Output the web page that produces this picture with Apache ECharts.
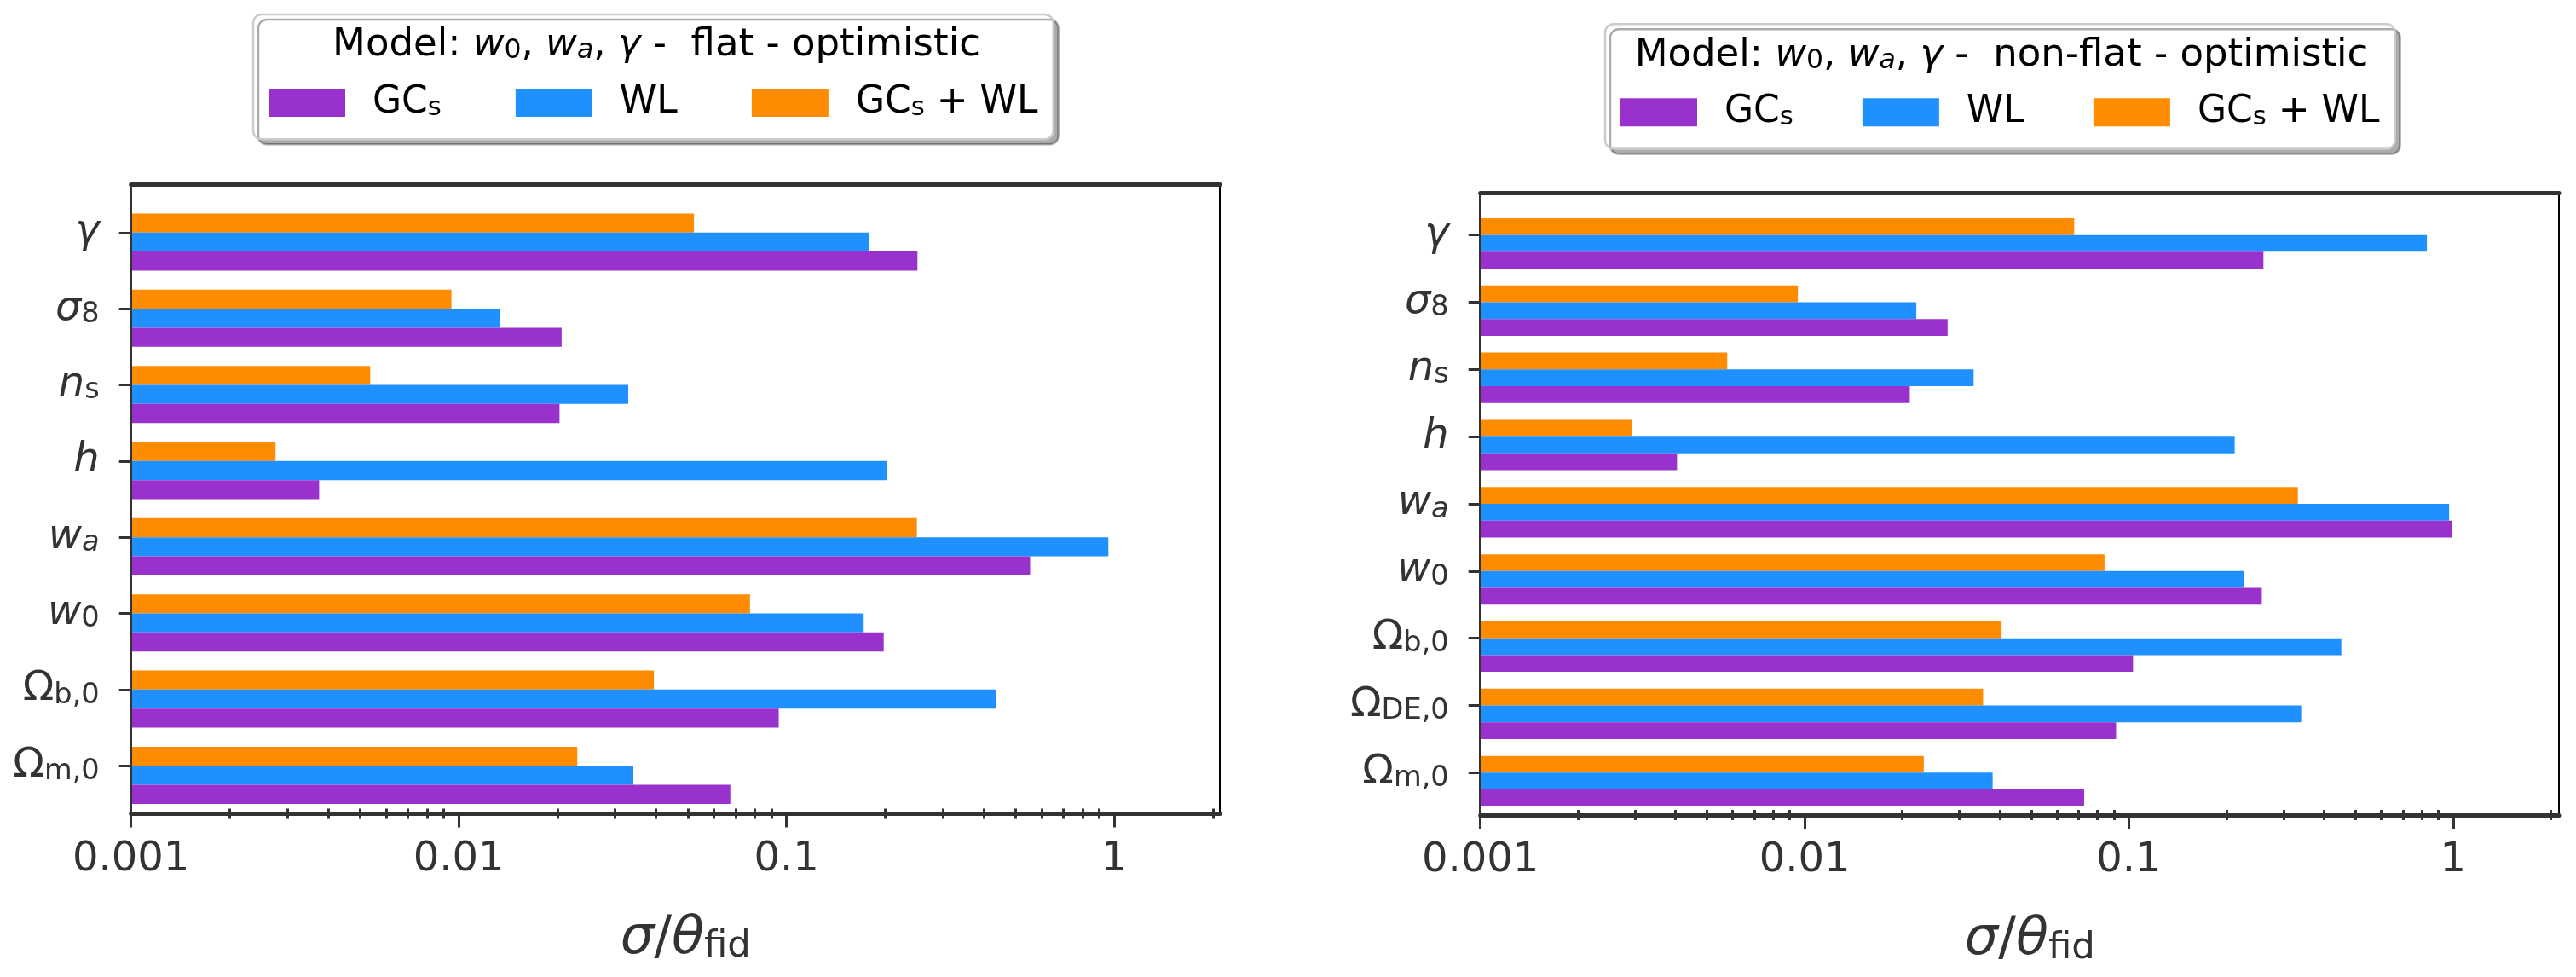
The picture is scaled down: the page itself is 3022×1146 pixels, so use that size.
<!DOCTYPE html>
<html><head><meta charset="utf-8">
<script src="https://cdn.jsdelivr.net/npm/echarts@6/dist/echarts.min.js"></script>
<style>html,body{margin:0;padding:0;background:#fff}#c{width:3022px;height:1146px}</style>
</head><body><div id="c"></div>
<script>
// ---------------- data ----------------
const seriesNames = ['GCs', 'WL', 'GCs + WL'];
const seriesColors = ['#9932CC', '#1E90FF', '#FF8C00'];

// categories listed top to bottom as in the picture
const leftCategories = ['γ', 'σ8', 'ns', 'h', 'wa', 'w0', 'Ωb,0', 'Ωm,0'];
const leftGCs  = [0.251, 0.0206, 0.0203, 0.00375, 0.554, 0.198, 0.0947, 0.0674];
const leftWL   = [0.179, 0.01337, 0.0329, 0.203, 0.960, 0.172, 0.435, 0.0341];
const leftComb = [0.0522, 0.0095, 0.00537, 0.00276, 0.250, 0.0774, 0.0394, 0.0230];

const rightCategories = ['γ', 'σ8', 'ns', 'h', 'wa', 'w0', 'Ωb,0', 'ΩDE,0', 'Ωm,0'];
const rightGCs  = [0.260, 0.0276, 0.0211, 0.00404, 0.989, 0.257, 0.103, 0.0913, 0.0728];
const rightWL   = [0.830, 0.0221, 0.0332, 0.212, 0.972, 0.227, 0.452, 0.340, 0.038];
const rightComb = [0.0678, 0.00953, 0.00577, 0.00294, 0.332, 0.0841, 0.0405, 0.0355, 0.0233];

const xMajorTicks = [0.001, 0.01, 0.1, 1];
const xTickLabels = ['0.001', '0.01', '0.1', '1'];
const xMinorTicks = [0.002, 0.003, 0.004, 0.005, 0.006, 0.007, 0.008, 0.009,
                     0.02, 0.03, 0.04, 0.05, 0.06, 0.07, 0.08, 0.09,
                     0.2, 0.3, 0.4, 0.5, 0.6, 0.7, 0.8, 0.9, 2];
const leftXMax = 2.1, rightXMax = 2.12, xMin = 0.001;

const leftTitle = 'Model: w0, wa, γ -  flat - optimistic';
const rightTitle = 'Model: w0, wa, γ -  non-flat - optimistic';
const xAxisTitle = 'σ/θfid';

// ---------------- text markup (math-like rendering) ----------------
const FONT = 'DejaVu Sans';
const labelMarkup = {
  'γ': '{i|γ}', 'σ8': '{i|σ}{s|8}', 'ns': '{i|n}{s|s}', 'h': '{i|h}',
  'wa': '{i|w}{si|a}', 'w0': '{i|w}{s|0}', 'Ωb,0': '{r|Ω}{s|b,0}',
  'ΩDE,0': '{r|Ω}{s|DE,0}', 'Ωm,0': '{r|Ω}{s|m,0}'
};
const legendMarkup = {'GCs': '{r|GC}{s|s}', 'WL': '{r|WL}', 'GCs + WL': '{r|GC}{s|s}{r| + WL}'};
const titleMarkup = {
  [leftTitle]: '{r|Model: }{i|w}{s|0}{r|, }{i|w}{si|a}{r|, }{i|γ}{r| -  flat - optimistic}',
  [rightTitle]: '{r|Model: }{i|w}{s|0}{r|, }{i|w}{si|a}{r|, }{i|γ}{r| -  non-flat - optimistic}'
};
const xTitleMarkup = '{i|σ}{r|/}{i|θ}{s|fid}';

function richSet(F, d, color) {
  const sf = +(F * 0.7).toFixed(1);
  const h = F - 2 * (d + 0.104 * F);
  const base = {fontFamily: FONT, color: color, fill: color};
  return {
    i: Object.assign({}, base, {fontSize: F, fontStyle: 'italic', lineHeight: F}),
    r: Object.assign({}, base, {fontSize: F, lineHeight: F}),
    s: Object.assign({}, base, {fontSize: sf, lineHeight: h, verticalAlign: 'bottom'}),
    si: Object.assign({}, base, {fontSize: sf, fontStyle: 'italic', lineHeight: h, verticalAlign: 'bottom'})
  };
}

function tickLabel(v) {
  let best = 0, bd = Infinity;
  xMajorTicks.forEach((t, k) => { const dd = Math.abs(Math.log10(v) - Math.log10(t)); if (dd < bd) { bd = dd; best = k; } });
  return xTickLabels[best];
}

// ---------------- layout ----------------
const M = 0.63; // category margin (in category units) inside the frame
const panels = [
  {L: 153.7, T: 216.5, W: 1277.3, H: 738, cats: leftCategories, xMax: leftXMax,
   vals: [leftComb, leftWL, leftGCs]},
  {L: 1736.7, T: 226, W: 1265.3, H: 730, cats: rightCategories, xMax: rightXMax,
   vals: [rightComb, rightWL, rightGCs]}
];

const grid = [], xAxis = [], yAxis = [], series = [];
const DARK = '#333333';

panels.forEach(p => {
  const n = p.cats.length;
  const b = p.H / (n - 1 + 2 * M);
  const idx = p.cats.map((c, k) => k);
  // frame grid
  const gF = grid.length;
  grid.push({left: p.L, top: p.T, width: p.W, height: p.H, outerBoundsMode: 'none', containLabel: false});
  const logBase = {type: 'log', logBase: 10, min: xMin, max: p.xMax, gridIndex: gF, splitLine: {show: false}, z: 10};
  xAxis.push(Object.assign({}, logBase, {
    position: 'bottom',
    axisLine: {show: true, onZero: false, lineStyle: {color: DARK, width: 5}},
    axisTick: {show: true, customValues: xMajorTicks, length: 16, lineStyle: {color: DARK, width: 3}},
    minorTick: {show: false},
    axisLabel: {show: true, customValues: xMajorTicks, formatter: tickLabel, fontFamily: FONT, fontSize: 48, color: DARK, margin: 30},
    name: xTitleMarkup, nameLocation: 'middle', nameGap: 116, nameMoveOverlap: false,
    nameTextStyle: {fontFamily: FONT, fontSize: 62, color: DARK, padding: [0, 0, 0, 24], rich: richSet(62, 9.3, DARK)}
  }));
  xAxis.push(Object.assign({}, logBase, {
    position: 'bottom', axisLine: {show: false, onZero: false}, axisLabel: {show: false},
    axisTick: {show: true, inside: false, customValues: xMinorTicks, length: 6, lineStyle: {color: DARK, width: 3}}
  }));
  xAxis.push(Object.assign({}, logBase, {
    position: 'bottom', axisLine: {show: false, onZero: false}, axisLabel: {show: false},
    axisTick: {show: true, inside: true, customValues: xMinorTicks, length: 6, lineStyle: {color: DARK, width: 3}}
  }));
  xAxis.push(Object.assign({}, logBase, {
    position: 'top', axisLine: {show: true, onZero: false, lineStyle: {color: DARK, width: 5}},
    axisTick: {show: false}, axisLabel: {show: false}
  }));
  yAxis.push({
    type: 'value', gridIndex: gF, position: 'left', inverse: true, min: -M, max: n - 1 + M, z: 10,
    splitLine: {show: false},
    axisLine: {show: true, onZero: false, lineStyle: {color: DARK, width: 3}},
    axisTick: {show: true, customValues: idx, length: 14, lineStyle: {color: DARK, width: 3}},
    axisLabel: {show: true, customValues: idx, formatter: v => labelMarkup[p.cats[Math.round(v)]],
      align: 'right', margin: 37, fontFamily: FONT, fontSize: 48, color: DARK, rich: richSet(48, 8, DARK)}
  });
  yAxis.push({
    type: 'value', gridIndex: gF, position: 'right', inverse: true, min: -M, max: n - 1 + M, z: 10,
    splitLine: {show: false}, axisLine: {show: true, onZero: false, lineStyle: {color: '#000', width: 2}},
    axisTick: {show: false}, axisLabel: {show: false}
  });
  // bar grid (category bands aligned to ticks; bar group shifted as in the original)
  const gB = grid.length;
  grid.push({left: p.L, top: p.T + (M - 0.5 + 0.125) * b, width: p.W, height: n * b, outerBoundsMode: 'none', containLabel: false});
  const xB = xAxis.length;
  xAxis.push({type: 'log', logBase: 10, min: xMin, max: p.xMax, startValue: xMin, gridIndex: gB, show: false, axisLine: {onZero: false}});
  const yB = yAxis.length;
  yAxis.push({type: 'category', gridIndex: gB, data: p.cats, inverse: true, show: false, axisLine: {onZero: false}});
  const order = [2, 1, 0]; // top to bottom: GCs + WL, WL, GCs
  p.vals.forEach((arr, k) => {
    const si = order[k];
    series.push({
      type: 'bar', name: seriesNames[si], xAxisIndex: xB, yAxisIndex: yB, data: arr,
      barWidth: b / 4, barGap: '0%', itemStyle: {color: seriesColors[si]}, z: 2
    });
  });
});

function legendBox(left, top, gap) {
  return {
    data: seriesNames, left: left, top: top, orient: 'horizontal',
    itemWidth: 90, itemHeight: 33, itemGap: gap, icon: 'rect',
    padding: [81.5, 18, 20.8, 18], backgroundColor: '#ffffff', borderColor: '#cccccc', borderWidth: 2.5, borderRadius: 10,
    shadowColor: 'rgba(0,0,0,0.33)', shadowOffsetX: 6, shadowOffsetY: 6, shadowBlur: 0,
    formatter: nm => legendMarkup[nm],
    textStyle: {fontFamily: FONT, fontSize: 44, color: '#000', padding: [0, 0, 0, 27], rich: richSet(44, 6.7, '#000')}
  };
}

const option = {
  backgroundColor: '#ffffff',
  animation: false,
  grid: grid, xAxis: xAxis, yAxis: yAxis, series: series,
  legend: [legendBox(297, 17, 87), legendBox(1883, 28.3, 81)],
  graphic: [
    {type: 'text', z: 100, x: 770, y: 53, style: {text: titleMarkup[leftTitle], rich: richSet(45, 6.7, '#000'), align: 'center', verticalAlign: 'middle', fontFamily: FONT, fontSize: 45, fill: '#000'}},
    {type: 'text', z: 100, x: 2348, y: 65, style: {text: titleMarkup[rightTitle], rich: richSet(45, 6.7, '#000'), align: 'center', verticalAlign: 'middle', fontFamily: FONT, fontSize: 45, fill: '#000'}}
  ]
};

const chart = echarts.init(document.getElementById('c'), null, {renderer: 'canvas'});
chart.setOption(option);
</script>
</body></html>
